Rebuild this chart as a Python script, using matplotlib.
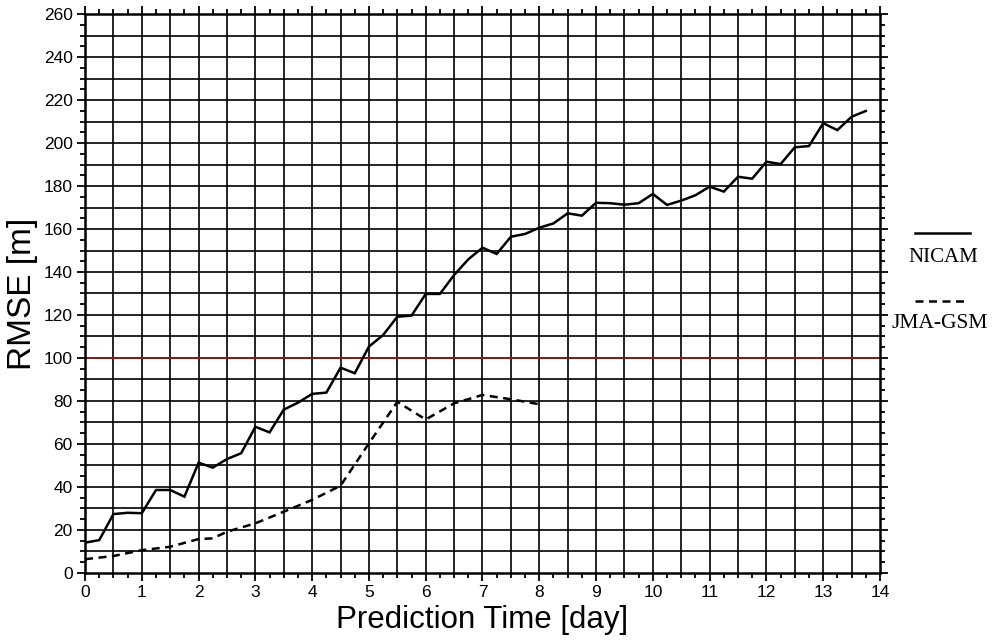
import numpy as np
import matplotlib
matplotlib.use("Agg")
import matplotlib.pyplot as plt
from matplotlib.ticker import MultipleLocator
from matplotlib.lines import Line2D

# ---- data ----
nicam_t = [0, 0.25, 0.5, 0.75, 1.0, 1.25, 1.5, 1.75, 2.0, 2.25, 2.5, 2.75,
           3.0, 3.25, 3.5, 3.75, 4.0, 4.25, 4.5, 4.75, 5.0, 5.25, 5.5, 5.75,
           6.0, 6.25, 6.5, 6.75, 7.0, 7.25, 7.5, 7.75, 8.0, 8.25, 8.5, 8.75,
           9.0, 9.25, 9.5, 9.75, 10.0, 10.25, 10.5, 10.75, 11.0, 11.25, 11.5,
           11.75, 12.0, 12.25, 12.5, 12.75, 13.0, 13.25, 13.5, 13.75]
nicam_v = [14.1, 15.3, 27.4, 28.0, 27.8, 38.6, 38.6, 35.5, 51.3, 49.0, 53.0, 55.7,
           68.0, 65.4, 76.0, 79.2, 83.3, 83.9, 95.5, 92.9, 105.3, 110.7, 119.2, 119.7,
           129.8, 129.8, 138.6, 145.9, 151.3, 148.4, 156.4, 157.7, 160.6, 162.6, 167.3, 166.2,
           172.2, 172.0, 171.3, 172.0, 176.3, 171.2, 173.2, 175.7, 179.7, 177.4, 184.3,
           183.4, 191.3, 190.2, 198.0, 198.6, 209.2, 206.0, 212.2, 214.9]

jma_t = [0, 0.5, 1.0, 1.5, 2.0, 2.25, 2.5, 3.0, 3.5, 4.0, 4.5, 5.0, 5.5, 6.0,
         6.5, 7.0, 7.5, 8.0]
jma_v = [6.4, 7.9, 10.6, 12.2, 15.8, 16.1, 19.2, 23.1, 28.5, 34.0, 40.6, 60.3,
         79.6, 71.4, 78.9, 82.8, 80.8, 78.5]

threshold = 100
series_names = ["NICAM", "JMA-GSM"]

# ---- figure ----
fig = plt.figure(figsize=(9.97, 6.43), dpi=100)
ax = fig.add_axes([0.0853, 0.1089, 0.7973, 0.8693])

ax.set_xlim(0, 14)
ax.set_ylim(0, 260)

# grid lines every 0.5 day / 10 m
for xv in np.arange(0.5, 14, 0.5):
    ax.axvline(xv, color="black", lw=1.2, zorder=1)
for yv in np.arange(10, 260, 10):
    ax.axhline(yv, color="black", lw=1.2, zorder=1)

ax.axhline(threshold, color="#8b1a1a", lw=1.4, zorder=2)

ax.plot(nicam_t, nicam_v, color="black", lw=1.8, zorder=3, solid_joinstyle="miter")
ax.plot(jma_t, jma_v, color="black", lw=1.8, ls=(0, (3.2, 2.2)), zorder=3)

ax.xaxis.set_major_locator(MultipleLocator(1))
ax.xaxis.set_minor_locator(MultipleLocator(0.25))
ax.yaxis.set_major_locator(MultipleLocator(20))
ax.yaxis.set_minor_locator(MultipleLocator(5))
ax.tick_params(which="both", direction="out", top=True, right=True,
               labeltop=False, labelright=False, width=1.3, color="black")
ax.tick_params(which="major", length=6, labelsize=12.5, pad=3)
ax.tick_params(which="minor", length=3.5)
for lab in ax.get_xticklabels() + ax.get_yticklabels():
    lab.set_family("Liberation Sans")

for sp in ax.spines.values():
    sp.set_linewidth(1.8)
    sp.set_zorder(4)

ax.set_xlabel("Prediction Time [day]", fontsize=22.5, family="Liberation Sans", labelpad=3)
ax.set_ylabel("RMSE [m]", fontsize=24, family="Liberation Sans", labelpad=4)

# legend on the right
fig.add_artist(Line2D([915/997, 970/997], [1-233/643, 1-233/643], color="black", lw=1.8))
fig.text(943/997, 1-257/643, series_names[0], ha="center", va="center",
         fontsize=15, family="Liberation Serif")
fig.add_artist(Line2D([915/997, 968/997], [1-301/643, 1-301/643], color="black", lw=1.8,
                      ls=(0, (3.2, 2.2))))
fig.text(940/997, 1-324/643, series_names[1], ha="center", va="center",
         fontsize=15.5, family="Liberation Serif")

fig.savefig("out.png", dpi=100)
